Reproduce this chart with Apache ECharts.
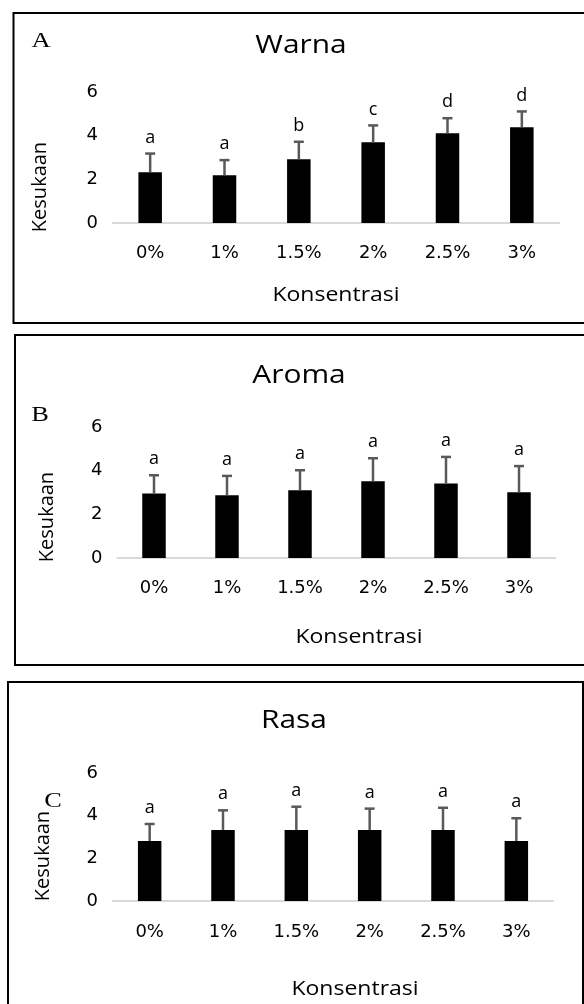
<!DOCTYPE html>
<html>
<head>
<meta charset="utf-8">
<script src="https://cdn.jsdelivr.net/npm/echarts@6/dist/echarts.min.js"></script>
<style>
html,body{margin:0;padding:0;background:#fff;}
#chart{width:584px;height:1004px;}
</style>
</head>
<body>
<div id="chart"></div>
<script>
// ---- data ----
const categories = ['0%', '1%', '1.5%', '2%', '2.5%', '3%'];
const yTicks = { min: 0, max: 6, interval: 2 };

const warnaMean = [2.33, 2.19, 2.92, 3.70, 4.11, 4.39];
const warnaSd = [0.85, 0.69, 0.80, 0.77, 0.69, 0.72];
const warnaLetters = ['a', 'a', 'b', 'c', 'd', 'd'];

const aromaMean = [2.95, 2.87, 3.10, 3.51, 3.41, 3.01];
const aromaSd = [0.84, 0.89, 0.92, 1.06, 1.22, 1.20];
const aromaLetters = ['a', 'a', 'a', 'a', 'a', 'a'];

const rasaMean = [2.81, 3.33, 3.33, 3.33, 3.33, 2.81];
const rasaSd = [0.80, 0.92, 1.09, 1.00, 1.04, 1.07];
const rasaLetters = ['a', 'a', 'a', 'a', 'a', 'a'];

const panelTitles = ['Warna', 'Aroma', 'Rasa'];
const panelTags = ['A', 'B', 'C'];
const xName = 'Konsentrasi';
const yName = 'Kesukaan';

// ---- layout ----
const panels = [
  { mean: warnaMean, sd: warnaSd, letters: warnaLetters,
    grid: { left: 113, top: 92, width: 446, height: 131 }, labelMargin: 21,
    border: { x: 13.5, y: 13, width: 580, height: 310 },
    title: [301, 46], tag: [41, 41.5], xname: [336, 295], yname: [40, 187] },
  { mean: aromaMean, sd: aromaSd, letters: aromaLetters,
    grid: { left: 117.5, top: 427, width: 438, height: 131 }, labelMargin: 21.5,
    border: { x: 15, y: 335, width: 580, height: 330 },
    title: [299, 376], tag: [40, 415], xname: [359, 637], yname: [47.5, 517] },
  { mean: rasaMean, sd: rasaSd, letters: rasaLetters,
    grid: { left: 113, top: 773, width: 440, height: 128 }, labelMargin: 22,
    border: { x: 8, y: 682, width: 575, height: 340 },
    title: [294, 721], tag: [53, 801], xname: [355, 989], yname: [43.5, 856] }
];

const SANS = '"Open Sans", "DejaVu Sans", sans-serif';
const TICKFONT = '"DejaVu Sans", sans-serif';

const grids = [], xAxes = [], yAxes = [], series = [], graphics = [];

panels.forEach((p, i) => {
  grids.push(Object.assign({ containLabel: false }, p.grid));
  xAxes.push({
    type: 'category', gridIndex: i, data: categories,
    axisLine: { show: true, lineStyle: { color: '#d9d9d9', width: 2 } },
    axisTick: { show: false },
    axisLabel: { margin: p.labelMargin, fontSize: 18, color: '#000', fontFamily: TICKFONT }
  });
  yAxes.push({
    type: 'value', gridIndex: i, min: yTicks.min, max: yTicks.max, interval: yTicks.interval,
    splitLine: { show: false }, axisLine: { show: false }, axisTick: { show: false },
    axisLabel: { margin: 15, fontSize: 18, color: '#000', fontFamily: TICKFONT }
  });
  series.push({
    type: 'bar', xAxisIndex: i, yAxisIndex: i, data: p.mean, barWidth: 23.5,
    itemStyle: { color: '#000' }, silent: true, animation: false
  });
  const letters = p.letters;
  series.push({
    type: 'custom', xAxisIndex: i, yAxisIndex: i, animation: false, silent: true, z: 5,
    encode: { x: 0, y: 1 },
    data: p.mean.map((m, k) => [k, m, p.sd[k]]),
    renderItem: function (params, api) {
      const xi = api.value(0), m = api.value(1), s = api.value(2);
      const top = api.coord([xi, m + s]);
      const base = api.coord([xi, m]);
      const st = { stroke: '#595959', lineWidth: 2.5 };
      return {
        type: 'group',
        children: [
          { type: 'line', shape: { x1: top[0], y1: base[1], x2: top[0], y2: top[1] }, style: st },
          { type: 'line', shape: { x1: top[0] - 5, y1: top[1], x2: top[0] + 5, y2: top[1] }, style: st },
          { type: 'text', x: top[0], y: top[1] - 7,
            style: { text: letters[params.dataIndex], fontSize: 18, fontFamily: SANS, fill: '#000',
                     textAlign: 'center', textVerticalAlign: 'bottom', align: 'center', verticalAlign: 'bottom' } }
        ]
      };
    }
  });

  graphics.push({
    type: 'rect', shape: p.border, style: { fill: 'none', stroke: '#000', lineWidth: 2 }, silent: true
  });
  graphics.push({
    type: 'text', x: p.title[0], y: p.title[1], scaleX: 1.15,
    style: { text: panelTitles[i], fontSize: 26, fontFamily: SANS, fill: '#000',
             textAlign: 'center', textVerticalAlign: 'middle', align: 'center', verticalAlign: 'middle' }
  });
  graphics.push({
    type: 'text', x: p.tag[0], y: p.tag[1], scaleX: 1.2,
    style: { text: panelTags[i], fontSize: 22, fontFamily: '"Liberation Serif", serif', fill: '#000',
             textAlign: 'center', textVerticalAlign: 'middle', align: 'center', verticalAlign: 'middle' }
  });
  graphics.push({
    type: 'text', x: p.xname[0], y: p.xname[1], scaleX: 1.15,
    style: { text: xName, fontSize: 20, fontFamily: SANS, fill: '#000',
             textAlign: 'center', textVerticalAlign: 'middle', align: 'center', verticalAlign: 'middle' }
  });
  graphics.push({
    type: 'text', x: p.yname[0], y: p.yname[1], rotation: Math.PI / 2,
    style: { text: yName, fontSize: 20, fontFamily: SANS, fill: '#000',
             textAlign: 'center', textVerticalAlign: 'middle', align: 'center', verticalAlign: 'middle' }
  });
});

const chart = echarts.init(document.getElementById('chart'), null, { renderer: 'canvas' });
chart.setOption({
  backgroundColor: '#fff',
  animation: false,
  grid: grids,
  xAxis: xAxes,
  yAxis: yAxes,
  series: series,
  graphic: { elements: graphics }
});
</script>
</body>
</html>
